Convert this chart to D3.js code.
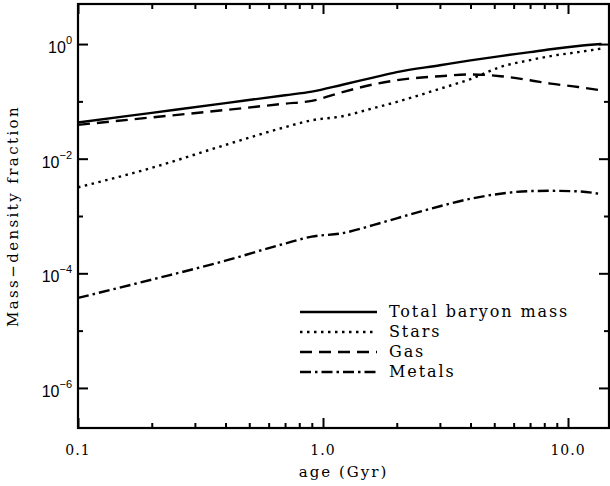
<!DOCTYPE html>
<html>
<head>
<meta charset="utf-8">
<script src="https://cdn.jsdelivr.net/npm/d3@7"></script>
<style>
body { margin: 0; background: #fff; }
</style>
</head>
<body>
<svg id="chart" width="610" height="486"></svg>
<script>
// values (age in Gyr, mass-density fraction)
const ages       = [0.1, 0.2, 0.4, 0.7, 0.9, 1.2, 1.6, 2.0, 3.0, 4.0, 5.3, 7.0, 8.5, 11.0, 13.7];
const totalMass  = [0.0427, 0.0631, 0.0933, 0.128, 0.148, 0.195, 0.260, 0.324, 0.427, 0.519, 0.617, 0.724, 0.813, 0.923, 1.0];
const starsMass  = [0.00316, 0.00692, 0.0174, 0.0355, 0.0468, 0.0550, 0.0759, 0.0977, 0.166, 0.245, 0.398, 0.525, 0.617, 0.724, 0.832];
const gasMass    = [0.0389, 0.0525, 0.0708, 0.0912, 0.102, 0.145, 0.197, 0.234, 0.275, 0.295, 0.275, 0.234, 0.204, 0.178, 0.155];
const metalsMass = [3.72e-5, 7.76e-5, 1.66e-4, 3.31e-4, 4.37e-4, 5.01e-4, 6.92e-4, 9.12e-4, 1.48e-3, 2.00e-3, 2.45e-3, 2.72e-3, 2.75e-3, 2.69e-3, 2.40e-3];

const seriesNames = ["Total baryon mass", "Stars", "Gas", "Metals"];

const xMajorTicks = [0.1, 1, 10];
const xTickLabels = ["0.1", "1.0", "10.0"];
const xMinorTicks = [0.2, 0.3, 0.4, 0.5, 0.6, 0.7, 0.8, 0.9, 2, 3, 4, 5, 6, 7, 8, 9];
const yMajorExps = [0, -2, -4, -6];
const yMinorExps = [-1, -3, -5];

const svg = d3.select('#chart');
const margin = {top: 4, right: 1, bottom: 58, left: 78};
const W = 610 - margin.left - margin.right;
const H = 486 - margin.top - margin.bottom;

const x = d3.scaleLog().domain([0.1, 14.7]).range([margin.left, margin.left + W]);
const y = d3.scaleLog().domain([2e-7, 5]).range([margin.top + H, margin.top]);

const serif = "'DejaVu Serif', serif";
const sans = "'Liberation Sans', Arial, sans-serif";

// ticks on all four sides, pointing inward
function drawTicks(axisFn, transform, vals, size) {
   svg.append("g")
      .attr("transform", transform)
      .call(axisFn.tickValues(vals).tickSize(-size).tickSizeOuter(0).tickFormat(""))
      .call(g => g.select(".domain").remove())
      .call(g => g.selectAll("line").attr("stroke", "#000").attr("stroke-width", 2));
}
const yMajor = yMajorExps.map(e => Math.pow(10, e));
const yMinor = yMinorExps.map(e => Math.pow(10, e));

drawTicks(d3.axisBottom(x), `translate(0,${margin.top + H})`, xMajorTicks, 10);
drawTicks(d3.axisBottom(x), `translate(0,${margin.top + H})`, xMinorTicks, 5);
drawTicks(d3.axisTop(x), `translate(0,${margin.top})`, xMajorTicks, 10);
drawTicks(d3.axisTop(x), `translate(0,${margin.top})`, xMinorTicks, 5);
drawTicks(d3.axisLeft(y), `translate(${margin.left},0)`, yMajor, 10);
drawTicks(d3.axisLeft(y), `translate(${margin.left},0)`, yMinor, 5);
drawTicks(d3.axisRight(y), `translate(${margin.left + W},0)`, yMajor, 10);
drawTicks(d3.axisRight(y), `translate(${margin.left + W},0)`, yMinor, 5);

svg.append("rect")
   .attr("x", margin.left).attr("y", margin.top)
   .attr("width", W).attr("height", H)
   .attr("fill", "none").attr("stroke", "#000").attr("stroke-width", 2.2);

// x tick labels
svg.append("g").selectAll("text")
   .data(xMajorTicks)
   .join("text")
      .attr("x", d => x(d))
      .attr("y", margin.top + H + 27)
      .attr("text-anchor", "middle")
      .style("font-family", serif).style("font-size", "14px").style("letter-spacing", "1px")
      .text((d, i) => xTickLabels[i]);

// y tick labels 10^n
const yLab = svg.append("g").selectAll("text")
   .data(yMajorExps)
   .join("text")
      .attr("x", 72)
      .attr("y", d => y(Math.pow(10, d)) + 9)
      .attr("text-anchor", "end")
      .style("font-family", sans).style("font-size", "16px");
yLab.append("tspan").text("10");
yLab.append("tspan")
   .attr("dy", -9)
   .style("font-size", "11px")
   .text(d => d === 0 ? "0" : "\u2212" + Math.abs(d));

// axis titles
svg.append("text")
   .attr("x", margin.left + W / 2)
   .attr("y", 477)
   .attr("text-anchor", "middle")
   .style("font-family", serif).style("font-size", "15px").style("letter-spacing", "2px")
   .text("age (Gyr)");

svg.append("text")
   .attr("transform", `translate(18,${margin.top + H / 2}) rotate(-90)`)
   .attr("text-anchor", "middle")
   .style("font-family", serif).style("font-size", "15px").style("letter-spacing", "2.4px")
   .text("Mass\u2212density fraction");

// curves
const series = [
   {name: seriesNames[0], values: totalMass,  dash: null},
   {name: seriesNames[1], values: starsMass,  dash: "2.5,4.5"},
   {name: seriesNames[2], values: gasMass,    dash: "12,7"},
   {name: seriesNames[3], values: metalsMass, dash: "11,4,2.5,4"}
];

const line = d3.line()
   .x(d => x(d[0]))
   .y(d => y(d[1]))
   .curve(d3.curveMonotoneX);

svg.append("g").selectAll("path")
   .data(series)
   .join("path")
      .attr("d", s => line(ages.map((a, i) => [a, s.values[i]])))
      .attr("fill", "none")
      .attr("stroke", "#000")
      .attr("stroke-width", 2.4)
      .attr("stroke-dasharray", s => s.dash);

// legend
const legend = svg.append("g");
series.forEach(function(s, i) {
   const ly = 312 + i * 20;
   legend.append("line")
      .attr("x1", 300).attr("x2", 377)
      .attr("y1", ly).attr("y2", ly)
      .attr("stroke", "#000").attr("stroke-width", 2.4)
      .attr("stroke-dasharray", s.dash);
   legend.append("text")
      .attr("x", 389).attr("y", ly + 5)
      .style("font-family", serif).style("font-size", "16px").style("letter-spacing", "1.9px")
      .text(s.name);
});
</script>
</body>
</html>
